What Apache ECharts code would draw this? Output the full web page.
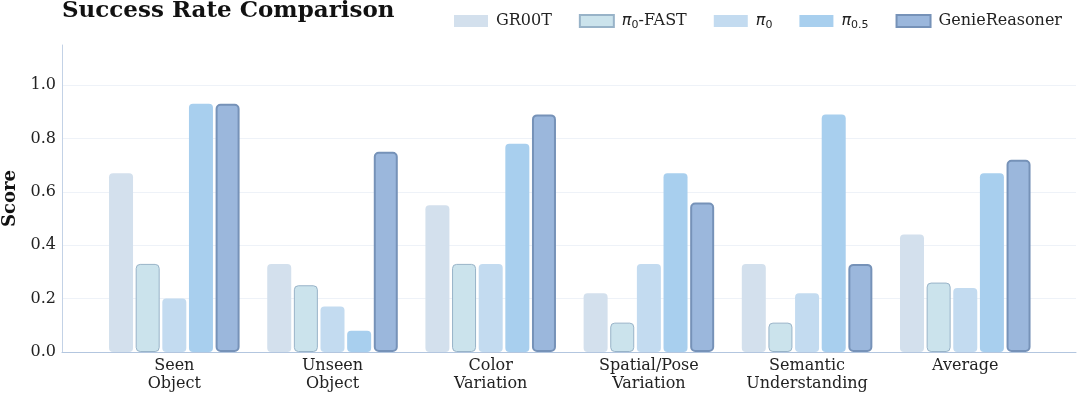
<!DOCTYPE html>
<html>
<head>
<meta charset="utf-8">
<script src="https://cdn.jsdelivr.net/npm/echarts@6/dist/echarts.min.js"></script>
<style>
html,body{margin:0;padding:0;background:#fff;}
#c{width:1080px;height:395px;}
</style>
</head>
<body>
<div id="c"></div>
<script>
const categories = ['Seen\nObject', 'Unseen\nObject', 'Color\nVariation', 'Spatial/Pose\nVariation', 'Semantic\nUnderstanding', 'Average'];
const seriesNames = ['GR00T', 'π0-FAST', 'π0', 'π0.5', 'GenieReasoner'];
const gr00t = [0.67, 0.33, 0.55, 0.22, 0.33, 0.44];
const pi0fast = [0.33, 0.25, 0.33, 0.11, 0.11, 0.26];
const pi0 = [0.20, 0.17, 0.33, 0.33, 0.22, 0.24];
const pi05 = [0.93, 0.08, 0.78, 0.67, 0.89, 0.67];
const genie = [0.93, 0.75, 0.89, 0.56, 0.33, 0.72];
const yTicks = [0, 0.2, 0.4, 0.6, 0.8, 1.0];

const FONT = '"DejaVu Serif", serif';
const styles = [
  {color: '#d3e0ed', borderColor: '#d3e0ed', borderWidth: 0},
  {color: '#cbe3ec', borderColor: '#98b3c8', borderWidth: 1},
  {color: '#c3dbf0', borderColor: '#c3dbf0', borderWidth: 0},
  {color: '#a8cfee', borderColor: '#a8cfee', borderWidth: 0},
  {color: '#9bb7dc', borderColor: '#7692b8', borderWidth: 2}
];
const allData = [gr00t, pi0fast, pi0, pi05, genie];

const legendLabels = {
  'GR00T': 'GR00T',
  'π0-FAST': '{pi|π}{sub|0}{t|-FAST}',
  'π0': '{pi|π}{sub|0}',
  'π0.5': '{pi|π}{sub|0.5}',
  'GenieReasoner': 'GenieReasoner'
};

const chart = echarts.init(document.getElementById('c'), null, {renderer: 'canvas'});
chart.setOption({
  animation: false,
  backgroundColor: '#ffffff',
  title: {
    text: 'Success Rate Comparison',
    left: 62, top: 0, padding: 0,
    textStyle: {fontFamily: FONT, fontWeight: 'bold', fontSize: 23, color: '#111'}
  },
  legend: {
    right: 18, top: 11, padding: 0,
    itemWidth: 34, itemHeight: 12, itemGap: 27,
    icon: 'rect',
    data: seriesNames,
    formatter: n => legendLabels[n],
    textStyle: {
      fontFamily: FONT, fontSize: 16, color: '#222', lineHeight: 20,
      padding: [0, 0, 0, 3],
      rich: {
        pi: {fontFamily: '"DejaVu Sans", sans-serif', fontStyle: 'italic', fontSize: 16, color: '#222', lineHeight: 20, verticalAlign: 'middle'},
        sub: {fontFamily: '"DejaVu Sans", sans-serif', fontSize: 11, color: '#222', lineHeight: 11, verticalAlign: 'bottom'},
        t: {fontFamily: FONT, fontSize: 16, color: '#222', lineHeight: 20}
      }
    }
  },
  grid: {left: 62, right: 4, top: 45, bottom: 43, containLabel: false, outerBoundsMode: 'none'},
  xAxis: {
    type: 'value',
    min: -0.71, max: 5.7,
    axisLine: {show: true, onZero: false, lineStyle: {color: '#b3c6df', width: 1}},
    axisTick: {show: false, customValues: [0, 1, 2, 3, 4, 5]},
    splitLine: {show: false},
    axisLabel: {
      customValues: [0, 1, 2, 3, 4, 5],
      formatter: v => categories[Math.round(v)],
      fontFamily: FONT, fontSize: 16, color: '#222', lineHeight: 18, margin: 5
    }
  },
  yAxis: {
    type: 'value',
    min: 0, max: 1.15,
    name: 'Score',
    nameLocation: 'middle',
    nameGap: 42,
    nameTextStyle: {fontFamily: FONT, fontWeight: 'bold', fontSize: 18, color: '#111'},
    axisLine: {show: true, onZero: false, lineStyle: {color: '#c3d2e6', width: 1}},
    axisTick: {show: false, customValues: yTicks},
    splitLine: {show: true, lineStyle: {color: '#eef2f8', width: 1}},
    axisLabel: {
      customValues: yTicks,
      formatter: v => v.toFixed(1),
      fontFamily: FONT, fontSize: 16, color: '#222', margin: 6
    }
  },
  series: seriesNames.map((name, si) => ({
    name: name,
    type: 'bar',
    barWidth: 24,
    barGap: '11%',
    data: allData[si].map((v, i) => [i, v]),
    itemStyle: Object.assign({borderRadius: 4}, styles[si])
  }))
});
</script>
</body>
</html>
